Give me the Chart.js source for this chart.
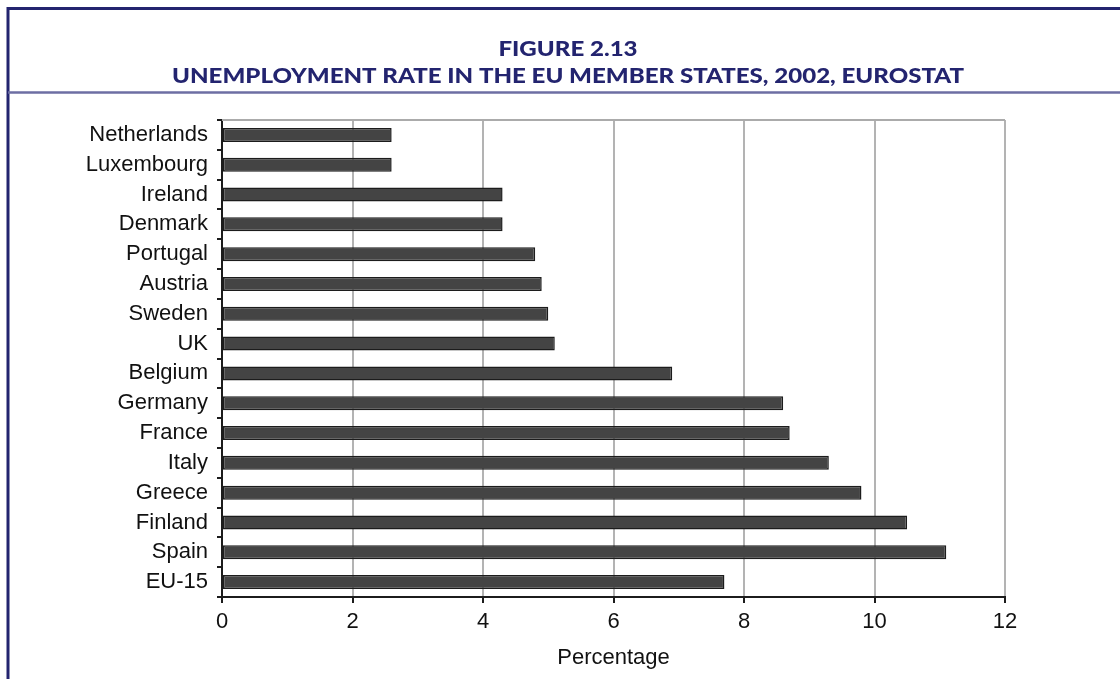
<!DOCTYPE html>
<html>
<head>
<meta charset="utf-8">
<title>Unemployment rate in the EU member states, 2002</title>
<script src="https://cdn.jsdelivr.net/npm/chart.js@4.4.1/dist/chart.umd.min.js"></script>
<style>
    html, body { margin: 0; padding: 0; background: #fff; }
    #chart { display: block; }
</style>
</head>
<body>
<canvas id="chart" width="1120" height="679"></canvas>
<script>
// Unemployment rate (%) by member state, 2002 (Eurostat)
const countries = ['Netherlands', 'Luxembourg', 'Ireland', 'Denmark', 'Portugal', 'Austria', 'Sweden', 'UK',
    'Belgium', 'Germany', 'France', 'Italy', 'Greece', 'Finland', 'Spain', 'EU-15'];
const rates = [2.6, 2.6, 4.3, 4.3, 4.8, 4.9, 5.0, 5.1, 6.9, 8.6, 8.7, 9.3, 9.8, 10.5, 11.1, 7.7];
const xTicks = [0, 2, 4, 6, 8, 10, 12];
const xAxisTitle = 'Percentage';
const titleLines = ['FIGURE 2.13', 'UNEMPLOYMENT RATE IN THE EU MEMBER STATES, 2002, EUROSTAT'];

const NAVY = '#23246f';
const LABEL_FONT = { family: "'Liberation Sans', Arial, sans-serif", size: 22 };

// Page frame, heading and the grey top edge of the plot
const framePlugin = {
    id: 'frame',
    beforeDraw(chart) {
        const ctx = chart.ctx;
        ctx.save();
        ctx.fillStyle = '#fff';
        ctx.fillRect(0, 0, chart.width, chart.height);

        // outer box (top and left edges)
        ctx.strokeStyle = NAVY;
        ctx.lineWidth = 3;
        ctx.beginPath();
        ctx.moveTo(chart.width, 8.5);
        ctx.lineTo(8, 8.5);
        ctx.lineTo(8, chart.height);
        ctx.stroke();

        // rule under the heading
        ctx.strokeStyle = '#6d6ea3';
        ctx.lineWidth = 2.5;
        ctx.beginPath();
        ctx.moveTo(8, 92.5);
        ctx.lineTo(chart.width, 92.5);
        ctx.stroke();

        // heading, squeezed to the condensed width of the original face
        ctx.fillStyle = NAVY;
        ctx.font = "900 21px Lato, 'Open Sans', sans-serif";
        ctx.textAlign = 'center';
        ctx.textBaseline = 'alphabetic';
        const sx = 792 / ctx.measureText(titleLines[1]).width;
        ctx.translate(568, 0);
        ctx.scale(sx, 1);
        ctx.fillText(titleLines[0], 0, 56);
        ctx.fillText(titleLines[1], 0, 83);
        ctx.restore();
    },
    beforeDatasetsDraw(chart) {
        const { ctx, chartArea } = chart;
        ctx.save();
        ctx.strokeStyle = '#ababab';
        ctx.lineWidth = 2;
        ctx.beginPath();
        ctx.moveTo(chartArea.left, chartArea.top);
        ctx.lineTo(chartArea.right, chartArea.top);
        ctx.stroke();
        ctx.restore();
    }
};

const ctx = document.getElementById('chart').getContext('2d');
new Chart(ctx, {
    type: 'bar',
    data: {
        labels: countries,
        datasets: [{
            data: rates,
            backgroundColor: '#444444',
            borderColor: '#1c1c1c',
            borderWidth: 1.5,
            borderSkipped: false,
            categoryPercentage: 1,
            barPercentage: 0.47
        }]
    },
    options: {
        indexAxis: 'y',
        responsive: false,
        animation: false,
        layout: { padding: { top: 120, right: 115, left: 0, bottom: 0 } },
        plugins: {
            legend: { display: false },
            tooltip: { enabled: false }
        },
        scales: {
            x: {
                min: xTicks[0],
                max: xTicks[xTicks.length - 1],
                afterBuildTicks: scale => { scale.ticks = xTicks.map(v => ({ value: v })); },
                afterFit: scale => { scale.height = 82; },
                grid: {
                    color: c => (c.tick && c.tick.value === 0) ? 'rgba(0,0,0,0)' : '#b3b3b3',
                    lineWidth: 2,
                    tickColor: '#1c1c1c',
                    tickLength: 6
                },
                border: { color: '#1c1c1c', width: 2 },
                ticks: { color: '#111', font: LABEL_FONT, padding: 6, maxRotation: 0 },
                title: {
                    display: true,
                    text: xAxisTitle,
                    color: '#111',
                    font: LABEL_FONT,
                    padding: { top: 0, bottom: 8 }
                }
            },
            y: {
                afterFit: scale => { scale.width = 222; },
                grid: {
                    drawOnChartArea: false,
                    offset: true,
                    tickColor: '#1c1c1c',
                    tickLength: 5,
                    lineWidth: 2
                },
                border: { color: '#1c1c1c', width: 2 },
                ticks: { color: '#111', font: LABEL_FONT, padding: 9, autoSkip: false }
            }
        }
    },
    plugins: [framePlugin]
});
</script>
</body>
</html>
